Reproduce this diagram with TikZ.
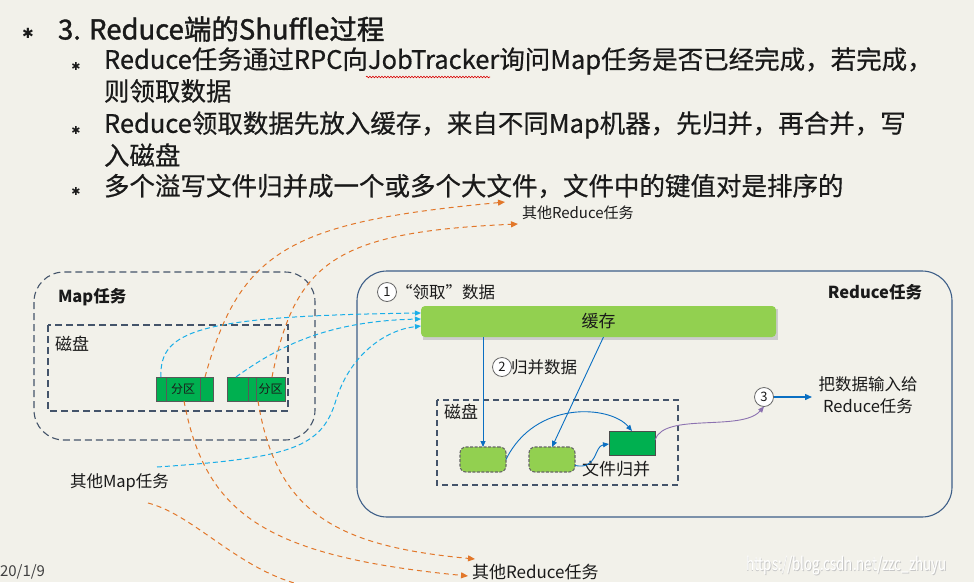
\documentclass[tikz,border=0pt]{standalone}
\usepackage{fontspec}
\setmainfont{Noto Sans CJK SC}
\newfontfamily\dejavu{DejaVu Sans}
\newfontfamily\headfont[FakeBold=1.4]{Noto Sans CJK SC}
\newfontfamily\bodyfont[FakeBold=0.5]{Noto Sans CJK SC}
\usetikzlibrary{arrows.meta,decorations.pathmorphing}
\definecolor{bgc}{HTML}{F2F1EA}
\definecolor{orangeC}{HTML}{E2772A}
\definecolor{lblue}{HTML}{1AAEE8}
\definecolor{dblue}{HTML}{0A6FC2}
\definecolor{boxc}{HTML}{44546A}
\definecolor{redbox}{HTML}{3E5F88}
\definecolor{lgreen}{HTML}{92D050}
\definecolor{dgreen}{HTML}{00B050}
\definecolor{purp}{HTML}{8C72B0}
\definecolor{txt}{HTML}{1A1A1A}
\newcommand\myfs[1]{\fontsize{#1}{#1}\selectfont}
\begin{document}
\begin{tikzpicture}[x=1pt,y=-1pt,
  every node/.style={inner sep=0pt, outer sep=0pt, text=txt},
  lbl/.style={anchor=west, font=\myfs{16.5}},
  body/.style={anchor=west, font=\bodyfont\myfs{25.5}},
  odash/.style={draw=orangeC, dash pattern=on 5pt off 4pt, line width=1pt},
  bdash/.style={draw=lblue, dash pattern=on 5pt off 3pt, line width=1pt},
  otip/.style={-{Triangle[length=7pt,width=6pt]}},
  btip/.style={-{Triangle[length=6pt,width=5pt]}},
  bsolid/.style={draw=dblue, line width=0.9pt, -{Triangle[length=6pt,width=5pt]}},
  part/.style={draw=black!65, fill=dgreen, line width=0.9pt, minimum height=24pt},
  small/.style={draw=black!60, dash pattern=on 3pt off 1.5pt, line width=1.1pt, fill=lgreen, rounded corners=6pt, minimum width=46pt, minimum height=25pt},
  circ/.style={circle, draw=black!60, fill=white, line width=0.8pt, minimum size=19pt, font=\myfs{13}},
  bullet/.style={font=\dejavu\myfs{11}}
]
\fill[bgc] (0,0) rectangle (974,582);
\path[use as bounding box] (0,0) rectangle (974,582);

% ---------- header text ----------
\node[font=\dejavu\myfs{14}] (b0) at (28,33) {✱};
\node[anchor=west, font=\headfont\myfs{27.5}] (title) at (58,29) {3. Reduce端的Shuffle过程};
\node[bullet] (b1) at (76,66) {✱};
\node[bullet] (b2) at (76,130) {✱};
\node[bullet] (b3) at (76,191) {✱};
\node[body] (l1) at (104,61) {Reduce任务通过RPC向JobTracker询问Map任务是否已经完成，若完成，};
\node[body] (l1b) at (104,91) {则领取数据};
\node[body] (l2) at (104,125) {Reduce领取数据先放入缓存，来自不同Map机器，先归并，再合并，写};
\node[body] (l2b) at (104,155) {入磁盘};
\node[body] (l3) at (104,186) {多个溢写文件归并成一个或多个大文件，文件中的键值对是排序的};

% ---------- Map task box ----------
\draw[boxc, dash pattern=on 7pt off 4pt, line width=1.1pt, rounded corners=30pt] (34,272) rectangle (315,440);
\node[lbl, font=\myfs{16.5}\bfseries] (maplbl) at (58,297) {Map任务};
\draw[boxc, dash pattern=on 7pt off 4pt, line width=1.4pt] (48,325) rectangle (288,411);
\node[lbl, font=\myfs{17}] (disk1) at (55,344) {磁盘};

\node[part, minimum width=57pt] (p1) at (184.5,389) {};
\draw[black!65, line width=0.9pt] (166,377) -- (166,401) (200,377) -- (200,401);
\node[font=\myfs{12}] (p1t) at (183,389) {分区};
\node[part, minimum width=58pt] (p2) at (256,389) {};
\draw[black!65, line width=0.9pt] (248,377) -- (248,401) (256,377) -- (256,401);
\node[font=\myfs{12}] (p2t) at (270.5,389) {分区};

\coordinate (p1a) at (161,377);
\coordinate (p1b) at (205,377);
\coordinate (p1c) at (184,401);
\coordinate (p2a) at (236,377);
\coordinate (p2b) at (272,377);
\coordinate (p2c) at (258,401);

% ---------- Reduce task box ----------
\draw[redbox, line width=1.1pt, rounded corners=30pt] (357,271) rectangle (952,517);
\node[anchor=east, font=\myfs{16.5}\bfseries] (redlbl) at (922,292) {Reduce任务};

\node[circ] (c1) at (387,292) {1};
\node[lbl] (fetch) at (396,292) {“领取”数据};
\fill[black!20] (423,309) rectangle (778,340);
\node[fill=lgreen, rounded corners=4pt, minimum width=355pt, minimum height=31pt, font=\myfs{17}] (cache) at (598.5,321.5) {缓存};

\node[circ] (c2) at (502,367) {2};
\node[lbl] (merge) at (511,367) {归并数据};

\draw[boxc, dash pattern=on 6pt off 4pt, line width=1.1pt] (437,400) rectangle (678,485);
\node[lbl, font=\myfs{17}] (disk2) at (444,412) {磁盘};
\node[small] (r1) at (483,459.5) {};
\node[small] (r2) at (552,459.5) {};
\node[draw=black!70, fill=dgreen, line width=0.9pt, minimum width=46pt, minimum height=24pt] (dark) at (632,443) {};
\node[lbl, font=\myfs{17}] (fmerge) at (582,469) {文件归并};

\node[circ] (c3) at (764,397) {3};
\node[font=\myfs{16.5}, align=center] (out) at (868,395) {把数据输入给\\[6pt]Reduce任务};
\coordinate (outw) at (812,397);

% solid blue connectors
\draw[bsolid] (cache.south -| r1) -- (r1.north);
\draw[bsolid] ([xshift=5pt]cache.south) -- (r2.north);
\draw[bsolid] (r1.east) .. controls (535,400) and (610,405) .. (dark.north);
\draw[bsolid] ([yshift=-6pt]r2.east) .. controls (598,470) and (594,446) .. ([yshift=-1pt]dark.west);
\draw[draw=purp, line width=0.9pt, -{Triangle[length=6pt,width=5pt]}] ([yshift=3pt]dark.east) .. controls (664,412) and (742,432) .. (c3.south);
\draw[draw=dblue, line width=1.4pt, -{Triangle[length=7pt,width=6pt]}] (c3.east) -- (outw);

% ---------- other texts ----------
\node[lbl] (othermap) at (70,482) {其他Map任务};
\coordinate (om1) at (157,467);
\coordinate (om2) at (148,503);
\node[lbl, font=\myfs{15}] (otr1) at (522,213) {其他Reduce任务};
\coordinate (ta1) at (505,202);
\coordinate (ta2) at (518,224);
\node[lbl, font=\myfs{17}] (otr2) at (472,572) {其他Reduce任务};
\coordinate (ba1) at (475,559);
\coordinate (ba2) at (468,576);
\coordinate (bend) at (306,586);

% ---------- dashed blue (to cache) ----------
\draw[bdash, btip] (p1a) .. controls (159,330) and (200,316) .. ([yshift=8.5pt]cache.west);
\draw[bdash, btip] (p2a) .. controls (280,345) and (330,321) .. ([yshift=2.5pt]cache.west);
\draw[bdash, btip] (om1) .. controls (290,458) and (322,448) .. (336,400) .. controls (350,355) and (385,330) .. ([yshift=-4.5pt]cache.west);

% ---------- dashed orange ----------
\draw[odash, otip] (p1b) .. controls (240,250) and (290,222) .. (ta1);
\draw[odash, otip] (p2b) .. controls (295,262) and (335,232) .. (ta2);
\draw[odash, otip] (p1c) .. controls (205,512) and (262,556) .. (ba2);
\draw[odash, otip] (p2c) .. controls (276,512) and (335,546) .. (ba1);
\draw[odash] (om2) .. controls (195,515) and (240,572) .. (bend);

% spell-check underline
\draw[red!85!black, line width=0.6pt, decorate, decoration={snake, amplitude=0.8pt, segment length=3pt}] (366,77) -- (490,77);

% footer
\node[anchor=west, font=\myfs{15}, text=black!75] (date) at (0,572) {20/1/9};
\node[anchor=west, font=\myfs{18}, text=black!22] (wms) at (746.8,566.8) {\scalebox{0.74}[1]{https://blog.csdn.net/zzc\_zhuyu}};
\node[anchor=west, font=\myfs{18}, text=white] (wm) at (746,566) {\scalebox{0.74}[1]{https://blog.csdn.net/zzc\_zhuyu}};
\end{tikzpicture}
\end{document}
